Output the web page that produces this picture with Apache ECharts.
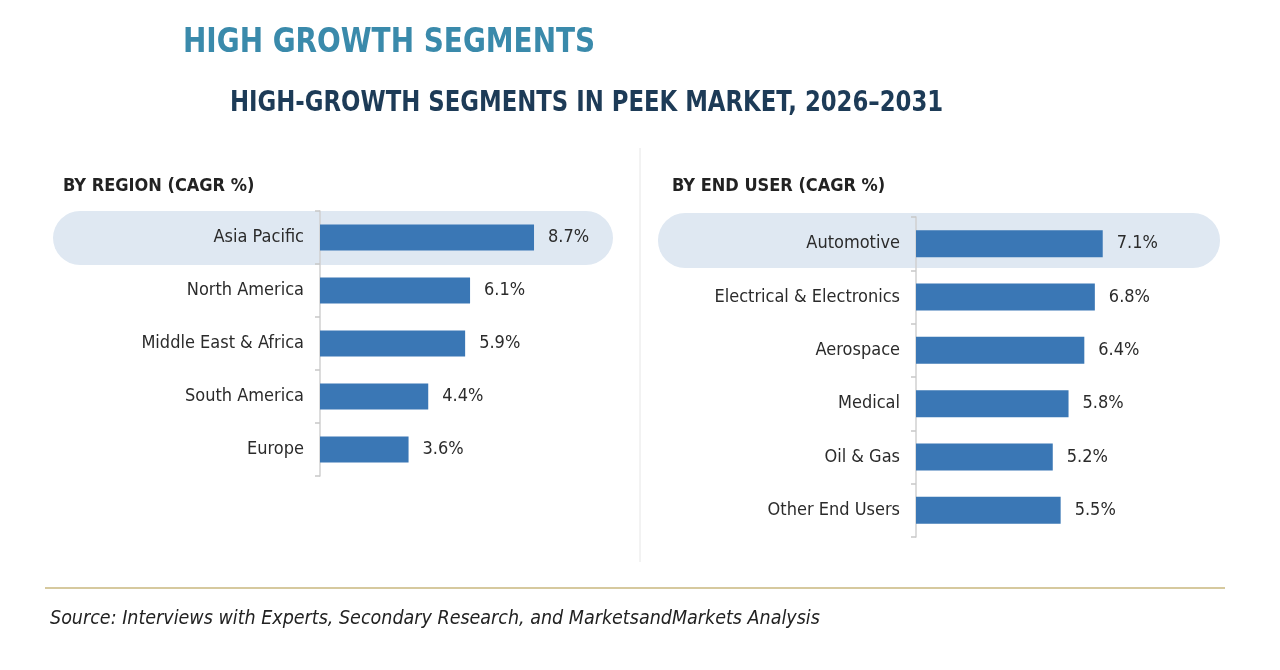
<!DOCTYPE html>
<html>
<head>
    <meta charset="utf-8">
    <title>High Growth Segments</title>
    <script src="https://cdn.jsdelivr.net/npm/echarts@6/dist/echarts.min.js"></script>
    <style>
        html, body { margin: 0; padding: 0; background: #fff; }
        #chart { width: 1280px; height: 670px; }
    </style>
</head>
<body>
    <div id="chart"></div>

    <script type="text/javascript">
        // 地区
        var regions = ['Asia Pacific', 'North America', 'Middle East & Africa', 'South America', 'Europe'];
        var regionCagr = [8.7, 6.1, 5.9, 4.4, 3.6];
        // 终端用户
        var endUsers = ['Automotive', 'Electrical & Electronics', 'Aerospace', 'Medical', 'Oil & Gas', 'Other End Users'];
        var endUserCagr = [7.1, 6.8, 6.4, 5.8, 5.2, 5.5];

        var narrow = '"Liberation Sans Narrow", "DejaVu Sans Condensed", Arial, sans-serif';
        var barColor = '#3a77b5';
        var pillColor = '#dfe8f2';

        var chart = echarts.init(document.getElementById('chart'));

        function catAxis(idx, data) {
            return {
                type: 'category',
                gridIndex: idx,
                data: data,
                inverse: true,
                axisLine: { show: true, lineStyle: { color: '#d0d0d0', width: 1.5 } },
                axisTick: { show: true, length: 5, lineStyle: { color: '#c8c8c8', width: 1.5 } },
                axisLabel: { color: '#2b2b2b', fontFamily: narrow, fontSize: 18, margin: 16 }
            };
        }

        function valAxis(idx) {
            return {
                type: 'value',
                gridIndex: idx,
                min: 0,
                max: 10,
                show: false
            };
        }

        function barSeries(idx, data, width) {
            return {
                type: 'bar',
                xAxisIndex: idx,
                yAxisIndex: idx,
                data: data,
                barWidth: width,
                itemStyle: { color: barColor },
                label: {
                    show: true,
                    position: 'right',
                    distance: 14,
                    color: '#2b2b2b',
                    fontFamily: narrow,
                    fontSize: 18,
                    formatter: '{c}%'
                },
                z: 3
            };
        }

        chart.setOption({
            animation: false,
            grid: [
                { left: 320, top: 211, width: 246, height: 265 },
                { left: 916, top: 217, width: 263, height: 320 }
            ],
            xAxis: [valAxis(0), valAxis(1)],
            yAxis: [catAxis(0, regions), catAxis(1, endUsers)],
            series: [barSeries(0, regionCagr, 26), barSeries(1, endUserCagr, 27)],
            graphic: [
                // highlight pills
                { type: 'rect', z: 0, shape: { x: 53, y: 211, width: 560, height: 54, r: 27 }, style: { fill: pillColor } },
                { type: 'rect', z: 0, shape: { x: 658, y: 213, width: 562, height: 55, r: 27 }, style: { fill: pillColor } },
                // divider
                { type: 'line', shape: { x1: 640, y1: 148, x2: 640, y2: 562 }, style: { stroke: '#e6e6e6', lineWidth: 1 } },
                // footer rule
                { type: 'line', shape: { x1: 45, y1: 588, x2: 1225, y2: 588 }, style: { stroke: '#c9b77e', lineWidth: 1.5 } },
                {
                    type: 'text', x: 183, y: 27, scaleX: 0.94,
                    style: { text: 'HIGH GROWTH SEGMENTS', fill: '#3a8aab', font: 'bold 33px ' + narrow }
                },
                {
                    type: 'text', x: 230, y: 89, scaleX: 0.874,
                    style: { text: 'HIGH-GROWTH SEGMENTS IN PEEK MARKET, 2026\u20132031', fill: '#1d3b57', font: 'bold 29px ' + narrow }
                },
                {
                    type: 'text', left: 63, top: 177,
                    style: { text: 'BY REGION (CAGR %)', fill: '#222', font: 'bold 18px ' + narrow }
                },
                {
                    type: 'text', left: 672, top: 177,
                    style: { text: 'BY END USER (CAGR %)', fill: '#222', font: 'bold 18px ' + narrow }
                },
                {
                    type: 'text', x: 50, y: 609, scaleX: 1.0,
                    style: { text: 'Source: Interviews with Experts, Secondary Research, and MarketsandMarkets Analysis', fill: '#222', font: 'italic 19.5px ' + narrow }
                }
            ]
        });
    </script>
</body>
</html>
